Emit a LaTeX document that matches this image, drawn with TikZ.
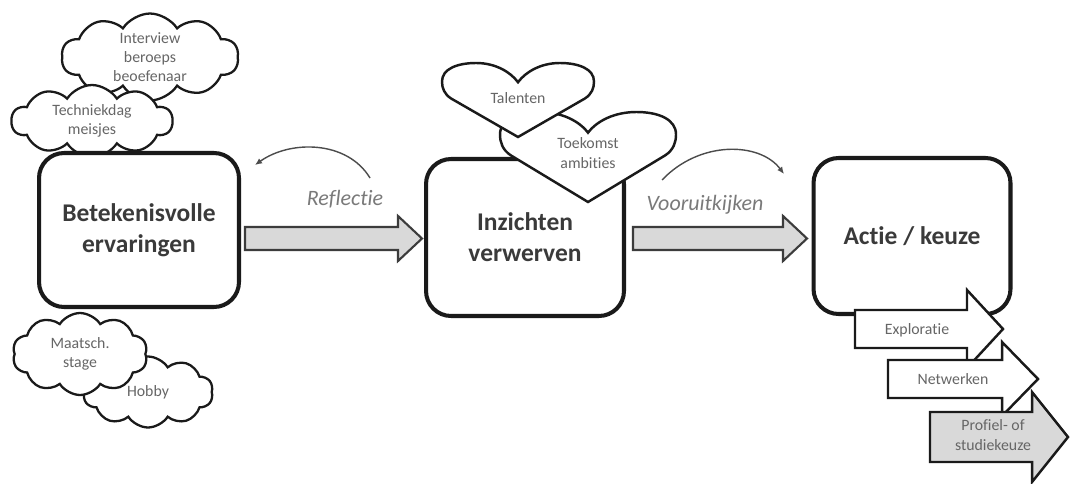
\documentclass[tikz,border=0pt]{standalone}
\usepackage{fontspec}
\setmainfont{Carlito}[Ligatures=NoCommon]
\usetikzlibrary{shapes.symbols,arrows.meta}
\definecolor{boxtext}{HTML}{3A3A3A}
\definecolor{softtext}{HTML}{666666}
\definecolor{labeltext}{HTML}{7A7A7A}
\definecolor{arrowfill}{HTML}{D9D9D9}
\definecolor{outline}{HTML}{1A1A1A}
\tikzset{
  mainbox/.style={draw=outline, line width=2.3pt, rounded corners=0.5cm, fill=white,
    align=center, text=boxtext, font=\fontsize{14.5}{17.6}\selectfont\bfseries},
  cloudbox/.style={cloud, cloud puffs=10, cloud puff arc=115, cloud ignores aspect,
    draw=outline, line width=1.3pt, fill=white, inner sep=0pt, align=center,
    text=softtext, font=\fontsize{9}{11}\selectfont},
  smalltext/.style={align=center, text=softtext, font=\fontsize{9}{11}\selectfont},
  heartline/.style={draw=outline, line width=1.4pt, fill=white},
  bigarrow/.style={draw=outline!85, line width=1.2pt, fill=arrowfill},
  steparrow/.style={draw=outline, line width=1.4pt},
  arcline/.style={draw=black!70, line width=0.8pt, -{Latex[length=4pt,width=3.5pt]}},
  arclabel/.style={text=labeltext, font=\fontsize{12.5}{15}\selectfont\itshape, anchor=base}
}
\begin{document}
\begin{tikzpicture}[x=0.02cm, y=-0.02cm]
\useasboundingbox (0,0) rectangle (1070,483);
\fill[white] (0,0) rectangle (1070,483);

% clouds (left)
\node[cloudbox, minimum width=3.54cm, minimum height=1.74cm] (interview) at (150,57) {Interview\\beroeps\\beoefenaar};
\node[cloudbox, minimum width=3.22cm, minimum height=1.44cm] (techniek) at (92,121) {Techniekdag\\meisjes};
\node[cloudbox, minimum width=2.6cm, minimum height=1.42cm] (hobby) at (148,392) {Hobby};
\node[cloudbox, minimum width=2.7cm, minimum height=1.64cm] (maatsch) at (80,354) {Maatsch.\\stage};

% main boxes
\node[mainbox, minimum width=4.0cm, minimum height=3.08cm] (ervaringen) at (139,230) {Betekenisvolle\\ervaringen};
\node[mainbox, minimum width=3.96cm, minimum height=3.14cm] (inzichten) at (525,237.5) {Inzichten\\verwerven};

% hearts
\begin{scope}[shift={(588,202)}, xscale=88, yscale=-90]
\path[heartline] (0,0) -- (-0.88,0.52) .. controls (-0.97,0.58) and (-1,0.66) .. (-1,0.75)
  .. controls (-1,0.92) and (-0.8,1) .. (-0.55,1)
  .. controls (-0.3,1) and (-0.1,0.9) .. (0,0.77)
  .. controls (0.1,0.9) and (0.3,1) .. (0.55,1)
  .. controls (0.8,1) and (1,0.92) .. (1,0.75)
  .. controls (1,0.66) and (0.97,0.58) .. (0.88,0.52) -- cycle;
\end{scope}
\node[smalltext] (toekomst) at (588,153) {Toekomst\\ambities};
\begin{scope}[shift={(518,137)}, xscale=76, yscale=-74]
\path[heartline] (0,0) -- (-0.88,0.52) .. controls (-0.97,0.58) and (-1,0.66) .. (-1,0.75)
  .. controls (-1,0.92) and (-0.8,1) .. (-0.55,1)
  .. controls (-0.3,1) and (-0.1,0.88) .. (0,0.74)
  .. controls (0.1,0.88) and (0.3,1) .. (0.55,1)
  .. controls (0.8,1) and (1,0.92) .. (1,0.75)
  .. controls (1,0.66) and (0.97,0.58) .. (0.88,0.52) -- cycle;
\end{scope}
\node[smalltext] (talenten) at (518,98) {Talenten};

\node[mainbox, minimum width=3.94cm, minimum height=3.12cm] (actie) at (912,236) {Actie / keuze};

% big arrows
\path[bigarrow] (245,227) -- (398,227) -- (398,216) -- (422,238.5) -- (398,261) -- (398,250) -- (245,250) -- cycle;
\path[bigarrow] (633,227) -- (783,227) -- (783,216) -- (807,238.5) -- (783,261) -- (783,250) -- (633,250) -- cycle;

% step arrows
\path[steparrow, fill=white] (855,310) -- (967,310) -- (967,290) -- (1003,329) -- (967,368) -- (967,348) -- (855,348) -- cycle;
\node[smalltext] (exploratie) at (917,330) {Exploratie};
\path[steparrow, fill=white] (888,360) -- (1002,360) -- (1002,342) -- (1038,379) -- (1002,416) -- (1002,398) -- (888,398) -- cycle;
\node[smalltext] (netwerken) at (953,379) {Netwerken};
\path[steparrow, fill=arrowfill] (930,412) -- (1032,412) -- (1032,392) -- (1068,437) -- (1032,482) -- (1032,462) -- (930,462) -- cycle;
\node[smalltext] (profiel) at (993,435) {Profiel- of\\studiekeuze};

% curved arcs and labels
\coordinate (refA) at (370,178);
\coordinate (refB) at (255,165);
\draw[arcline] (refA) .. controls (347,140) and (290,140) .. (refB);
\node[arclabel] (reflectie) at (345,205) {Reflectie};
\coordinate (vooA) at (662,180);
\coordinate (vooB) at (784,174);
\draw[arcline] (vooA) .. controls (700,140) and (760,142) .. (vooB);
\node[arclabel] (vooruit) at (705,210) {Vooruitkijken};
\end{tikzpicture}
\end{document}
